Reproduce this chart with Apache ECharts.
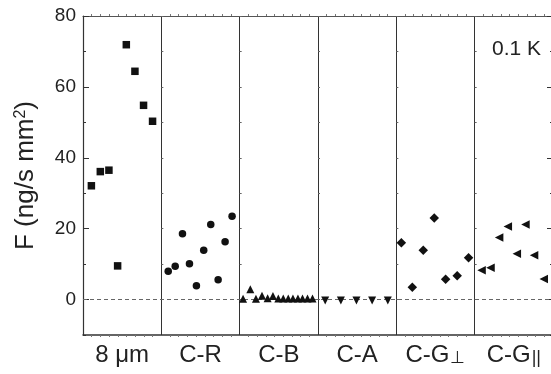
<!DOCTYPE html>
<html><head><meta charset="utf-8">
<script src="https://cdn.jsdelivr.net/npm/echarts@6/dist/echarts.min.js"></script>
<style>html,body{margin:0;padding:0;background:#fff}#c{width:551px;height:374px}</style>
</head><body><div id="c"></div>
<script>
// Panels (categories) along x; each panel spans one unit of the x axis
const categories = ['8 μm', 'C-R', 'C-B', 'C-A', 'C-G⊥', 'C-G||'];
const yTickLabels = [0, 20, 40, 60, 80];
const annotation = '0.1 K';
// positions within each panel (0..1) and F values (ng/s mm²)
const pos8um = [0.107, 0.221, 0.331, 0.442, 0.553, 0.663, 0.773, 0.888];
const val8um = [32.1, 36.1, 36.5, 9.5, 71.9, 64.4, 54.8, 50.3];
const posCR = [0.088, 0.177, 0.270, 0.359, 0.448, 0.541, 0.631, 0.725, 0.814, 0.903];
const valCR = [8.0, 9.4, 18.6, 10.1, 3.9, 13.9, 21.2, 5.6, 16.3, 23.5];
const posCB = [0.043, 0.136, 0.208, 0.285, 0.357, 0.425, 0.493, 0.556, 0.620, 0.680, 0.744, 0.802, 0.866, 0.930];
const valCB = [0.2, 2.9, 0.2, 1.1, 0.4, 1.0, 0.3, 0.3, 0.3, 0.3, 0.3, 0.3, 0.3, 0.3];
const posCA = [0.092, 0.292, 0.491, 0.691, 0.891];
const valCA = [-0.3, -0.3, -0.3, -0.3, -0.3];
const posCGperp = [0.064, 0.204, 0.344, 0.484, 0.629, 0.777, 0.922];
const valCGperp = [16.0, 3.5, 13.9, 23.0, 5.7, 6.7, 11.8];
const posCGpar = [0.088, 0.202, 0.312, 0.423, 0.538, 0.648, 0.758, 0.882];
const valCGpar = [8.3, 9.0, 17.5, 20.6, 12.9, 21.2, 12.5, 5.8];

const FONT = "'Liberation Sans', Arial, Helvetica, sans-serif";
const INK = '#111';
const AXC = '#333';

function pts(panel, pos, vals) { return pos.map((p, i) => [panel + p, vals[i]]); }

const groups = [
  { name: categories[0], data: pts(0, pos8um, val8um), symbol: 'rect', size: 7.5, rot: 0 },
  { name: categories[1], data: pts(1, posCR, valCR), symbol: 'circle', size: 7.5, rot: 0 },
  { name: categories[2], data: pts(2, posCB, valCB), symbol: 'triangle', size: 8, rot: 0 },
  { name: categories[3], data: pts(3, posCA, valCA), symbol: 'triangle', size: 8, rot: 180 },
  { name: categories[4], data: pts(4, posCGperp, valCGperp), symbol: 'diamond', size: 9.5, rot: 0 },
  { name: categories[5], data: pts(5, posCGpar, valCGpar), symbol: 'triangle', size: 8.5, rot: 90 }
];

const labelFmt = (v) => {
  const i = Math.floor(v);
  const c = categories[i];
  if (c === 'C-G⊥') return '{a|C-G}{s|⊥}';
  if (c === 'C-G||') return '{a|C-G}{p|||}';
  return '{a|' + c + '}';
};

const GRID_W = 470;
const sectionPx = GRID_W / categories.length;

const yAxes = [
  { // left main axis
    type: 'value', position: 'left', min: -10, max: 80, interval: 10,
    axisLine: { show: true, onZero: false, lineStyle: { color: AXC, width: 1.2 } },
    axisTick: { show: true, inside: true, length: 3, lineStyle: { color: AXC } },
    axisLabel: { customValues: yTickLabels, color: '#222', fontSize: 19, fontFamily: FONT, margin: 7 },
    splitLine: { show: false },
    name: '{a|F (ng/s mm}{s|2}{a|)}', nameLocation: 'middle', nameGap: 44, nameRotate: 90,
    nameTextStyle: { color: '#222', fontFamily: FONT,
      rich: { a: { fontSize: 26, fontFamily: FONT, color: '#222', verticalAlign: 'bottom' },
              s: { fontSize: 16, fontFamily: FONT, color: '#222', verticalAlign: 'top' } } }
  },
  { // left major ticks
    type: 'value', position: 'left', min: -10, max: 80, interval: 10,
    axisLine: { show: false, onZero: false },
    axisTick: { show: true, inside: true, length: 6, customValues: yTickLabels, lineStyle: { color: AXC } },
    axisLabel: { show: false }, splitLine: { show: false }
  },
  { // right axis
    type: 'value', position: 'right', min: -10, max: 80, interval: 10,
    axisLine: { show: true, onZero: false, lineStyle: { color: AXC, width: 1.2 } },
    axisTick: { show: true, inside: true, length: 3, lineStyle: { color: AXC } },
    axisLabel: { show: false }, splitLine: { show: false }
  },
  {
    type: 'value', position: 'right', min: -10, max: 80, interval: 10,
    axisLine: { show: false, onZero: false },
    axisTick: { show: true, inside: true, length: 6, customValues: yTickLabels, lineStyle: { color: AXC } },
    axisLabel: { show: false }, splitLine: { show: false }
  }
];
for (let k = 1; k < categories.length; k++) {
  yAxes.push({
    type: 'value', position: 'left', offset: -sectionPx * k, min: -10, max: 80, interval: 10,
    axisLine: { show: false, onZero: false },
    axisTick: { show: true, inside: true, length: 2, lineStyle: { color: '#666' } },
    axisLabel: { show: false }, splitLine: { show: false }
  });
}

const series = groups.map((g, gi) => ({
  type: 'scatter', name: g.name, data: g.data,
  symbol: g.symbol, symbolSize: g.size, symbolRotate: g.rot,
  itemStyle: { color: INK, opacity: 1 }, silent: true, z: 5,
  markLine: gi === 0 ? {
    silent: true, symbol: 'none', label: { show: false },
    lineStyle: { color: '#666', type: [4, 3], width: 1 },
    data: [{ yAxis: 0 }]
  } : undefined
}));

const chart = echarts.init(document.getElementById('c'), null, { renderer: 'canvas' });
chart.setOption({
  animation: false,
  backgroundColor: '#fff',
  grid: { left: 83, top: 16, width: GRID_W, height: 319, containLabel: false, outerBoundsMode: 'none' },
  xAxis: [
    {
      type: 'value', position: 'bottom', min: 0, max: categories.length, interval: 1,
      axisLine: { show: true, onZero: false, lineStyle: { color: AXC, width: 1.5 } },
      axisTick: { show: false },
      minorTick: { show: true, splitNumber: 9, length: 2, lineStyle: { color: '#777' } },
      splitLine: { show: true, lineStyle: { color: AXC, width: 1 } },
      axisLabel: {
        customValues: categories.map((c, i) => i + 0.5),
        formatter: labelFmt, margin: 8, color: '#222',
        rich: {
          a: { fontSize: 24, fontFamily: FONT, color: '#222' },
          s: { fontSize: 17, fontFamily: FONT, color: '#222', verticalAlign: 'bottom', padding: [0, 0, 0, 1] },
          p: { fontSize: 18, fontFamily: FONT, color: '#222', verticalAlign: 'bottom', padding: [4, 0, 0, 1] }
        }
      }
    },
    {
      type: 'value', position: 'top', min: 0, max: categories.length, interval: 1,
      axisLine: { show: true, onZero: false, lineStyle: { color: '#555', width: 1.2 } },
      axisTick: { show: false },
      minorTick: { show: true, splitNumber: 9, length: 2, lineStyle: { color: '#777' } },
      axisLabel: { show: false }, splitLine: { show: false }
    }
  ],
  yAxis: yAxes,
  graphic: [{
    type: 'text', right: 10, top: 39,
    style: { text: annotation, font: '21px ' + FONT, fill: '#222' }
  }],
  series: series
});
</script></body></html>
